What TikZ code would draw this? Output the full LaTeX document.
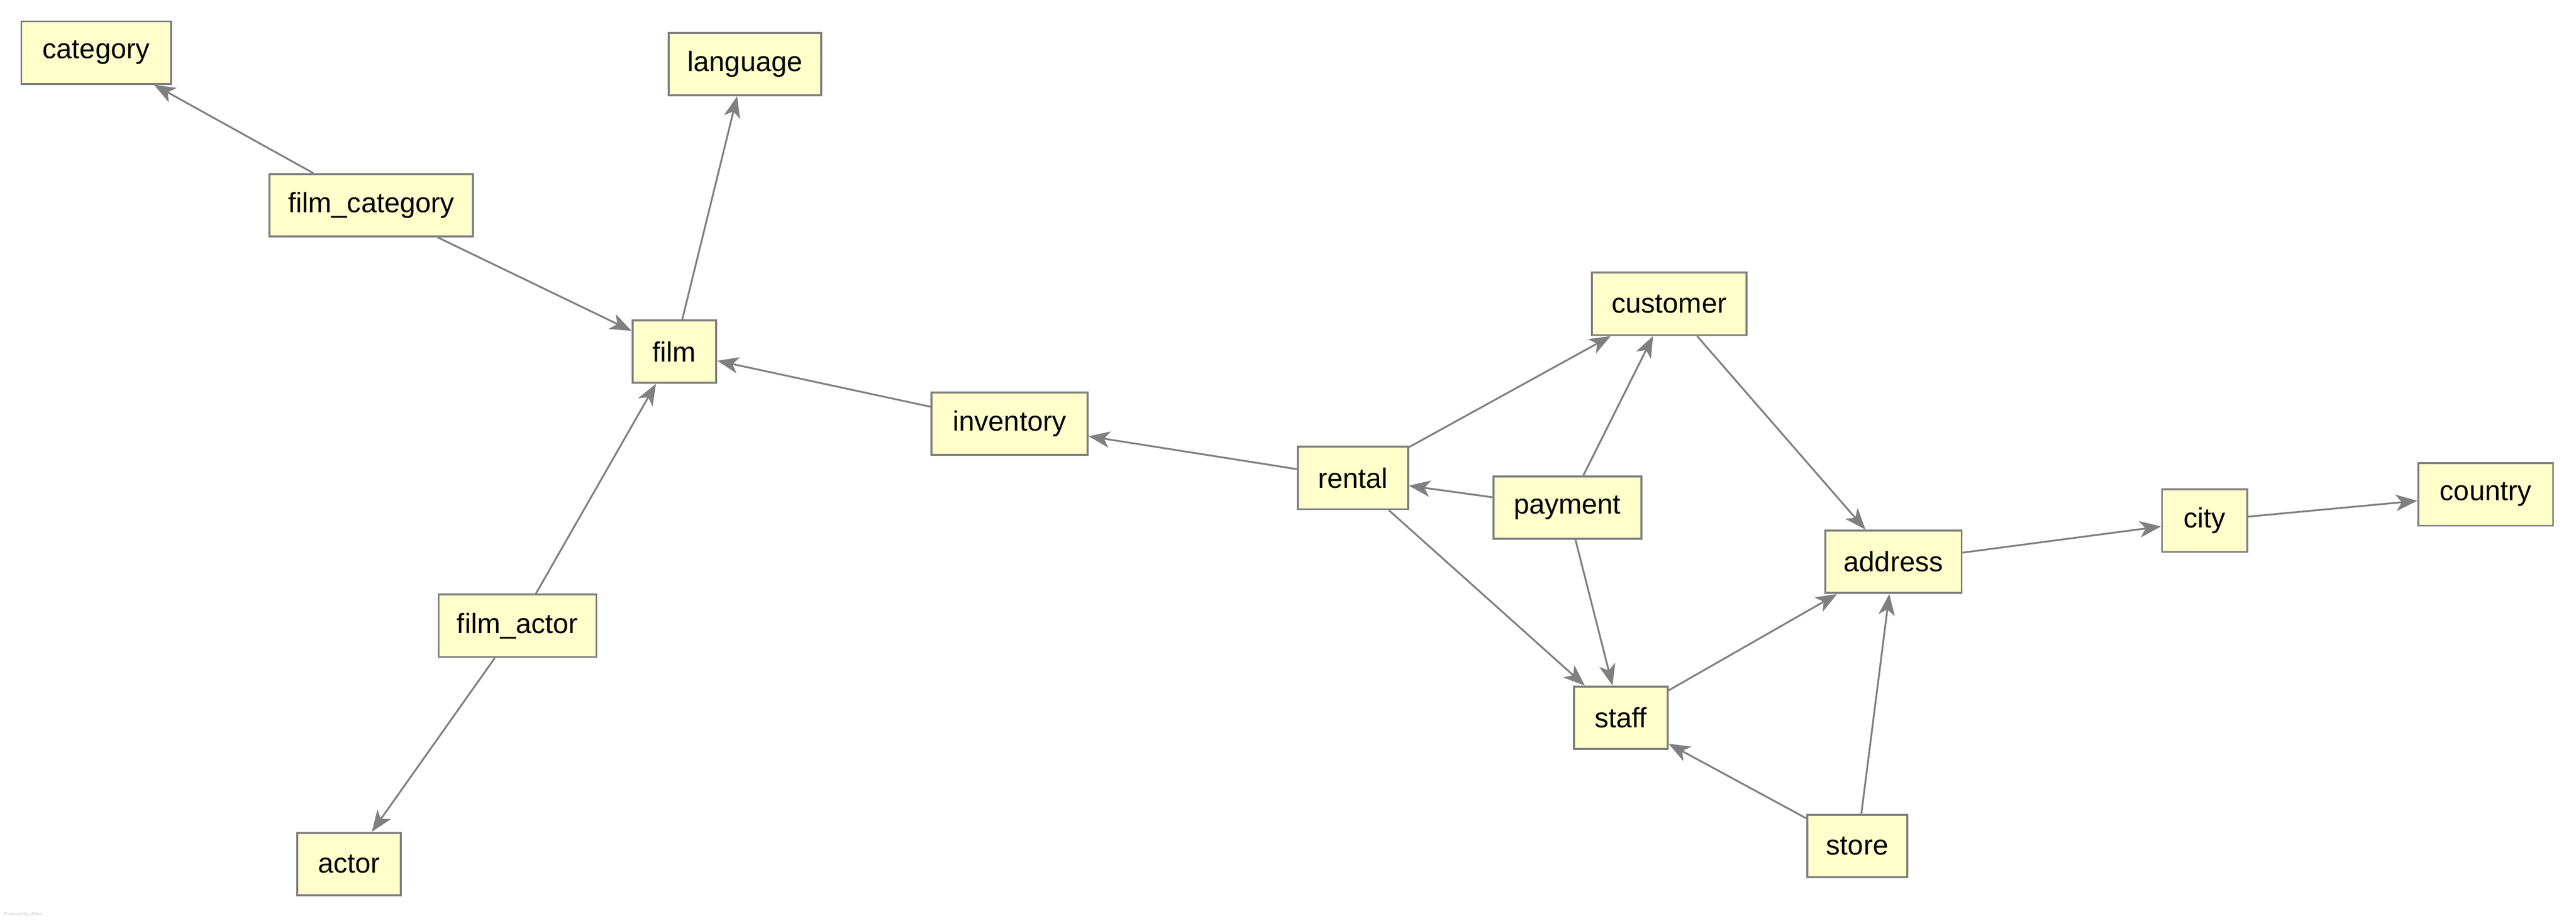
\documentclass[tikz,border=0pt]{standalone}
\usepackage{fontspec}
\setmainfont{Liberation Sans}
\usetikzlibrary{arrows.meta}

\definecolor{boxfill}{HTML}{FFFFCC}
\definecolor{linegray}{HTML}{808080}

\tikzset{
    table/.style={draw=linegray, line width=1.2pt, fill=boxfill, minimum height=38pt,
        inner sep=0pt, font=\fontsize{17}{20}\selectfont},
    fk/.style={-{Stealth[length=13pt,width=10pt,inset=3.5pt]}, draw=linegray, fill=linegray, line width=1.1pt}
}

\begin{document}
\begin{tikzpicture}[x=1pt,y=-1pt]
        \useasboundingbox (0,0) rectangle (1568,560.4);

        % Film side
        \node[table, minimum width=91pt] (category) at (58.5,32) {category};
        \node[table, minimum width=93pt] (language) at (453.5,39) {language};
        \node[table, minimum width=124pt] (film_category) at (226,125) {film\_category};
        \node[table, minimum width=51pt] (film) at (410.5,214) {film};
        \node[table, minimum width=95pt] (inventory) at (614.5,258) {inventory};
        \node[table, minimum width=96pt] (film_actor) at (315,381) {film\_actor};
        \node[table, minimum width=63pt] (actor) at (212.5,526) {actor};

        % Rental side
        \node[table, minimum width=94pt] (customer) at (1016,185) {customer};
        \node[table, minimum width=67pt] (rental) at (823.5,291) {rental};
        \node[table, minimum width=90pt] (payment) at (954,309) {payment};
        \node[table, minimum width=83pt] (address) at (1152.5,342) {address};
        \node[table, minimum width=52pt] (city) at (1342,317) {city};
        \node[table, minimum width=82pt] (country) at (1513,301) {country};
        \node[table, minimum width=57pt] (staff) at (986.5,437) {staff};
        \node[table, minimum width=61pt] (store) at (1130.5,515) {store};

        % Foreign keys
        \draw[fk] (film_category) -- (category);
        \draw[fk] (film_category) -- (film);
        \draw[fk] (film) -- (language);
        \draw[fk] (inventory) -- (film);
        \draw[fk] (film_actor) -- (film);
        \draw[fk] (film_actor) -- (actor);
        \draw[fk] (rental) -- (inventory);
        \draw[fk] (rental) -- (customer);
        \draw[fk] (rental) -- (staff);
        \draw[fk] (payment) -- (rental);
        \draw[fk] (payment) -- (customer);
        \draw[fk] (payment) -- (staff);
        \draw[fk] (customer) -- (address);
        \draw[fk] (address) -- (city);
        \draw[fk] (city) -- (country);
        \draw[fk] (staff) -- (address);
        \draw[fk] (store) -- (staff);
        \draw[fk] (store) -- (address);

        % Watermark
        \node[anchor=base west, inner sep=0pt, text=black!22, font=\fontsize{2.8}{3}\selectfont] (credit) at (2.3,557.5) {Powered by yFiles};
    \end{tikzpicture}
\end{document}
